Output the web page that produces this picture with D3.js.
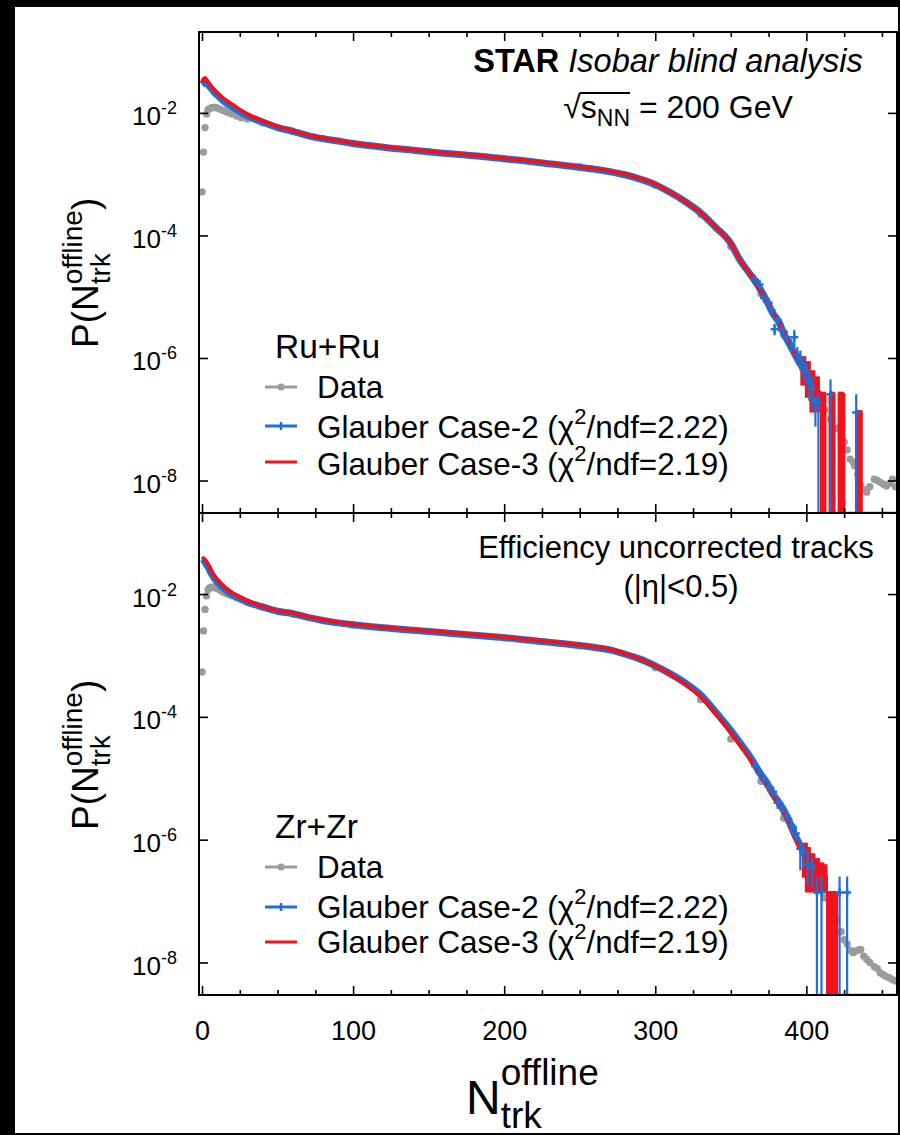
<!DOCTYPE html>
<html>
<head>
<meta charset="utf-8">
<script src="https://cdn.jsdelivr.net/npm/d3@7"></script>
<style>
  body { margin: 0; background: #000; }
  svg { display: block; }
  text { font-family: "Liberation Sans", Arial, Helvetica, sans-serif; fill: #000; }
</style>
</head>
<body>
<script>
// all P(N) values below are log10 exponents

// model curves, common N grid
const nGrid = [0,1,2,4,6,8,10,13,16,20,25,30,40,50,60,70,80,90,100,120,140,160,180,200,220,240,260,270,280,290,300,310,320,330,340,350,356,363,369,374,378,382,385,389,392,396,400];

const ruCase3 = [-1.50,-1.45,-1.43,-1.50,-1.57,-1.62,-1.67,-1.74,-1.80,-1.86,-1.95,-2.02,-2.13,-2.22,-2.29,-2.36,-2.41,-2.45,-2.49,-2.55,-2.60,-2.65,-2.69,-2.74,-2.79,-2.85,-2.91,-2.95,-3.00,-3.07,-3.16,-3.30,-3.45,-3.63,-3.87,-4.13,-4.40,-4.64,-4.88,-5.07,-5.26,-5.43,-5.58,-5.80,-5.94,-6.08,-6.25];
const ruCase2 = [-1.54,-1.52,-1.50,-1.54,-1.60,-1.66,-1.71,-1.78,-1.84,-1.90,-1.98,-2.05,-2.15,-2.24,-2.30,-2.37,-2.42,-2.46,-2.50,-2.56,-2.61,-2.66,-2.70,-2.75,-2.80,-2.86,-2.92,-2.96,-3.01,-3.08,-3.17,-3.30,-3.45,-3.63,-3.87,-4.13,-4.40,-4.64,-4.86,-5.08,-5.28,-5.42,-5.60,-5.78,-5.92,-6.10,-6.22];
const zrCase3 = [-1.40,-1.42,-1.44,-1.52,-1.62,-1.70,-1.76,-1.84,-1.91,-1.98,-2.05,-2.11,-2.20,-2.27,-2.31,-2.37,-2.42,-2.46,-2.49,-2.54,-2.58,-2.62,-2.66,-2.70,-2.75,-2.80,-2.86,-2.90,-2.97,-3.06,-3.17,-3.31,-3.47,-3.67,-3.95,-4.26,-4.46,-4.70,-4.95,-5.13,-5.30,-5.45,-5.57,-5.78,-5.95,-6.15,-6.32];
const zrCase2 = [-1.51,-1.50,-1.50,-1.56,-1.66,-1.74,-1.80,-1.88,-1.94,-2.01,-2.07,-2.13,-2.21,-2.28,-2.32,-2.38,-2.43,-2.47,-2.50,-2.55,-2.59,-2.63,-2.67,-2.71,-2.76,-2.81,-2.87,-2.91,-2.98,-3.06,-3.17,-3.30,-3.45,-3.64,-3.92,-4.22,-4.42,-4.66,-4.90,-5.08,-5.26,-5.40,-5.52,-5.72,-5.90,-6.10,-6.30];

// data points
const dataN = [0,1,2,3,4,5,6,7,8,9,10,12,14,16,18,20,23,26,30,40,60,80,100,150,200,250,300,330,350,370,385,400,404,408,412,416,420,423,425,427,429,431,432,434,436,438,440,442,445,447,449,451,453,455,457,459];
const ruData = [-3.29,-2.64,-2.24,-2.02,-1.95,-1.93,-1.92,-1.91,-1.91,-1.91,-1.92,-1.94,-1.96,-1.98,-2.00,-2.02,-2.05,-2.08,-2.10,-2.16,-2.30,-2.42,-2.50,-2.63,-2.75,-2.88,-3.18,-3.66,-4.18,-4.95,-5.62,-6.30,-6.50,-6.70,-6.85,-7.00,-7.15,-7.30,-7.37,-7.50,-7.65,-7.70,-7.76,-7.90,-8.09,-8.15,-8.19,-8.10,-7.98,-8.00,-8.03,-8.06,-8.09,-8.05,-7.98,-8.10];
const zrData = [-3.27,-2.60,-2.25,-2.03,-1.93,-1.90,-1.89,-1.89,-1.89,-1.90,-1.91,-1.94,-1.97,-1.99,-2.01,-2.03,-2.06,-2.09,-2.13,-2.21,-2.32,-2.43,-2.50,-2.61,-2.71,-2.84,-3.20,-3.72,-4.36,-5.05,-5.65,-6.35,-6.55,-6.75,-6.95,-7.10,-7.30,-7.50,-7.63,-7.70,-7.80,-7.84,-7.82,-7.80,-7.79,-7.90,-7.95,-8.00,-8.07,-8.10,-8.17,-8.20,-8.23,-8.25,-8.28,-8.30];

// tails: value, lower and upper error edge (null = empty bin, -12 = error down to zero)
const ruC3TailN   = [398, 401, 404, 407, 411, 414, 417, 420, 423, 427, 431, 435, 438, 445, 460];
const ruC3TailVal = [-6.15,-6.30,-6.45,-6.55,-6.59,null,-6.59,null,-6.59,null,null,-6.89,null,null,null];
const ruC3TailLo  = [-6.45,-6.65,-6.89,-6.89,-12,null,-12,null,-12,null,null,-12,null,null,null];
const ruC3TailHi  = [-5.97,-6.05,-6.20,-6.30,-6.55,null,-6.55,null,-6.55,null,null,-6.85,null,null,null];

const ruC2TailN   = [366, 369, 372, 375, 377, 379, 381, 384, 387, 390, 392, 394, 396, 398, 400, 402, 404, 406, 408, 416, 433];
const ruC2TailVal = [-4.72,-4.80,-5.02,-5.10,-5.22,-5.53,-5.38,-5.55,-5.66,-5.80,-5.66,-5.95,-6.02,-6.15,-6.22,-6.40,-6.50,-6.71,-6.73,-6.59,-6.89];
const ruC2TailLo  = [-4.80,-4.88,-5.10,-5.18,-5.31,-5.63,-5.48,-5.66,-5.78,-5.92,-5.80,-6.10,-6.20,-6.35,-6.45,-6.70,-6.85,-7.12,-12,-12,-12];
const ruC2TailHi  = [-4.65,-4.73,-4.95,-5.03,-5.14,-5.44,-5.29,-5.45,-5.55,-5.69,-5.54,-5.82,-5.88,-6.00,-6.05,-6.22,-6.30,-6.63,-6.59,-6.35,-6.59];

const zrC3TailN   = [399, 401, 404, 407, 410, 412, 415, 417, 419, 421, 425, 440, 460];
const zrC3TailVal = [-6.25,-6.33,-6.45,-6.52,-6.55,-6.60,-6.86,-6.86,-6.86,null,null,null,null];
const zrC3TailLo  = [-6.62,-6.86,-6.86,-6.86,-6.86,-6.86,-12,-12,-12,null,null,null,null];
const zrC3TailHi  = [-6.05,-6.12,-6.22,-6.30,-6.37,-6.40,-6.84,-6.84,-6.84,null,null,null,null];

const zrC2TailN   = [366, 369, 372, 375, 378, 381, 384, 387, 390, 393, 396, 398, 401, 404, 407, 410, 422, 427];
const zrC2TailVal = [-4.80,-4.92,-5.02,-5.14,-5.22,-5.40,-5.48,-5.62,-5.76,-5.90,-6.15,-6.20,-6.40,-6.45,-6.86,-6.86,-6.86,-6.86];
const zrC2TailLo  = [-4.88,-5.00,-5.11,-5.23,-5.32,-5.50,-5.60,-5.74,-5.90,-6.05,-6.50,-6.45,-6.75,-6.80,-12,-12,-12,-12];
const zrC2TailHi  = [-4.73,-4.85,-4.94,-5.06,-5.13,-5.31,-5.38,-5.51,-5.64,-5.77,-6.00,-6.05,-6.20,-6.30,-6.60,-6.60,-6.60,-6.60];

const xMajor = [0, 100, 200, 300, 400];
const xMinor = d3.range(0, 451, 25).filter(v => v % 100 !== 0);
const yTicks = [1e-2, 1e-4, 1e-6, 1e-8];

const legendNames = ["Data", "Glauber Case-2 (", "Glauber Case-3 ("];
const chiValues = ["2.22", "2.19"];

const gray = "#9b9b9b", blue = "#1f6fd6", red = "#f0121c";

const svg = d3.select("body").append("svg").attr("width", 900).attr("height", 1135);
svg.append("rect").attr("width", 900).attr("height", 1135).attr("fill", "#000");
svg.append("rect").attr("x", 15).attr("y", 7).attr("width", 883).attr("height", 1126).attr("fill", "#fff");

const left = 199, right = 897;
const x = d3.scaleLinear().domain([-2, 460]).range([left, right]);
const pow = v => Math.pow(10, v);

function zipTail(N, val, lo, hi) {
  return N.map((n, i) => ({ n: n, v: val[i], lo: lo[i], hi: hi[i] }));
}

function drawPanel(p) {
  const y = d3.scaleLog().domain([pow(-8.53), pow(-0.68)]).range([p.bottom, p.top]).clamp(true);
  const Y = v => y(pow(v));

  svg.append("clipPath").attr("id", "clip" + p.id)
    .append("rect").attr("x", left).attr("y", p.top)
    .attr("width", right - left).attr("height", p.bottom - p.top);
  const plot = svg.append("g").attr("clip-path", "url(#clip" + p.id + ")");

  // data
  plot.selectAll("circle").data(d3.zip(dataN, p.data)).join("circle")
    .attr("cx", d => x(d[0])).attr("cy", d => Y(d[1])).attr("r", 3.7).attr("fill", gray);

  const smooth = d3.line().x(d => x(d[0])).y(d => Y(d[1])).curve(d3.curveMonotoneX);

  // case-2 body
  plot.append("path").datum(d3.zip(nGrid, p.case2)).attr("d", smooth)
    .attr("fill", "none").attr("stroke", blue).attr("stroke-width", 7);

  // case-3 body + tail
  plot.append("path").datum(d3.zip(nGrid, p.case3)).attr("d", smooth)
    .attr("fill", "none").attr("stroke", red).attr("stroke-width", 4);

  const rt = zipTail(p.c3Tail[0], p.c3Tail[1], p.c3Tail[2], p.c3Tail[3]);
  plot.append("path").datum(rt)
    .attr("d", d3.line().x(d => x(d.n)).y(d => Y(d.v === null ? -12 : d.v)).curve(d3.curveStep))
    .attr("fill", "none").attr("stroke", red).attr("stroke-width", 2.5);
  plot.selectAll("line.rerr").data(rt.filter(d => d.v !== null)).join("line")
    .attr("class", "rerr")
    .attr("x1", d => x(d.n)).attr("x2", d => x(d.n))
    .attr("y1", d => Y(d.lo)).attr("y2", d => Y(d.hi))
    .attr("stroke", red).attr("stroke-width", 6);

  // case-2 tail points
  const bt = zipTail(p.c2Tail[0], p.c2Tail[1], p.c2Tail[2], p.c2Tail[3]);
  plot.selectAll("line.berr").data(bt).join("line")
    .attr("class", "berr")
    .attr("x1", d => x(d.n)).attr("x2", d => x(d.n))
    .attr("y1", d => Y(d.lo)).attr("y2", d => Y(d.hi))
    .attr("stroke", blue).attr("stroke-width", 2.2);
  plot.selectAll("path.bmark").data(bt).join("path")
    .attr("class", "bmark")
    .attr("d", d => {
      const cx = x(d.n), cy = Y(d.v);
      return `M${cx - 4},${cy}H${cx + 4}M${cx},${cy - 4}V${cy + 4}`;
    })
    .attr("stroke", blue).attr("stroke-width", 2.5);

  // axes
  const axes = svg.append("g");
  const tickStyle = g => {
    g.select(".domain").remove();
    g.selectAll(".tick line").attr("stroke", "#000").attr("stroke-width", 1.6);
  };
  axes.append("g").attr("transform", `translate(0,${p.top})`)
    .call(d3.axisTop(x).tickValues(xMajor).tickSize(-9).tickFormat("")).call(tickStyle);
  axes.append("g").attr("transform", `translate(0,${p.top})`)
    .call(d3.axisTop(x).tickValues(xMinor).tickSize(-5).tickFormat("")).call(tickStyle);
  axes.append("g").attr("transform", `translate(0,${p.bottom})`)
    .call(d3.axisBottom(x).tickValues(xMinor).tickSize(-5).tickFormat("")).call(tickStyle);
  const xb = axes.append("g").attr("transform", `translate(0,${p.bottom})`)
    .call(d3.axisBottom(x).tickValues(xMajor).tickSize(-9).tickPadding(26)
      .tickFormat(p.labels ? d3.format("d") : ""))
    .call(tickStyle);
  xb.selectAll(".tick text").attr("font-size", 27).attr("fill", "#000")
    .attr("font-family", "Liberation Sans, Arial, sans-serif");

  axes.append("g").attr("transform", `translate(${right},0)`)
    .call(d3.axisRight(y).tickValues(yTicks).tickSize(-9).tickFormat("")).call(tickStyle);
  const yl = axes.append("g").attr("transform", `translate(${left},0)`)
    .call(d3.axisLeft(y).tickValues(yTicks).tickSize(-9).tickPadding(22).tickFormat(""))
    .call(tickStyle);
  yl.selectAll(".tick text").each(function (d) {
    const t = d3.select(this).attr("font-size", 26).attr("fill", "#000")
      .attr("font-family", "Liberation Sans, Arial, sans-serif").attr("dy", "0.46em");
    t.append("tspan").text("10");
    t.append("tspan").attr("font-size", 18).attr("dy", -11).text(Math.round(Math.log10(d)));
  });

  svg.append("rect").attr("x", left).attr("y", p.top)
    .attr("width", right - left).attr("height", p.bottom - p.top)
    .attr("fill", "none").attr("stroke", "#000").attr("stroke-width", 2);

  // y title
  const yt = svg.append("text").attr("font-size", 37)
    .attr("transform", `translate(98,${p.titleStart}) rotate(-90)`);
  yt.append("tspan").text("P(N");
  const ys = yt.append("tspan").attr("font-size", 28).attr("dy", -16).text("offline");
  const yb = yt.append("tspan").attr("font-size", 28).attr("dy", 28).text("trk");
  const yc = yt.append("tspan").attr("dy", -12).text(")");
  const wS = ys.node().getComputedTextLength(), wB = yb.node().getComputedTextLength();
  yb.attr("dx", -wS);
  yc.attr("dx", wS - wB);

  // legend
  const lg = svg.append("g");
  lg.append("text").attr("x", 275).attr("y", p.legendTop).attr("font-size", 33.5).text(p.system);
  const rows = p.legendRows;
  const colors = [gray, blue, red];
  rows.forEach((r, i) => {
    lg.append("line").attr("x1", 265).attr("x2", 297).attr("y1", r.line).attr("y2", r.line)
      .attr("stroke", colors[i]).attr("stroke-width", 3);
    if (i === 0) lg.append("circle").attr("cx", 281).attr("cy", r.line).attr("r", 3.5).attr("fill", gray);
    if (i === 1) lg.append("line").attr("x1", 281).attr("x2", 281).attr("y1", r.line - 4).attr("y2", r.line + 4)
      .attr("stroke", blue).attr("stroke-width", 2.5);
    const t = lg.append("text").attr("x", 317).attr("y", r.text).attr("font-size", 31.4);
    t.append("tspan").text(legendNames[i]);
    if (i > 0) {
      t.append("tspan").text("χ");
      t.append("tspan").attr("font-size", 22).attr("dy", -14).text("2");
      t.append("tspan").attr("dy", 14).text("/ndf=" + chiValues[i - 1] + ")");
    }
  });
}

drawPanel({
  id: 0, top: 32, bottom: 513, labels: false, titleStart: 348,
  data: ruData, case2: ruCase2, case3: ruCase3,
  c3Tail: [ruC3TailN, ruC3TailVal, ruC3TailLo, ruC3TailHi],
  c2Tail: [ruC2TailN, ruC2TailVal, ruC2TailLo, ruC2TailHi],
  system: "Ru+Ru", legendTop: 358,
  legendRows: [{ text: 398, line: 387 }, { text: 438, line: 426 }, { text: 475, line: 462 }]
});
drawPanel({
  id: 1, top: 513, bottom: 995, labels: true, titleStart: 830,
  data: zrData, case2: zrCase2, case3: zrCase3,
  c3Tail: [zrC3TailN, zrC3TailVal, zrC3TailLo, zrC3TailHi],
  c2Tail: [zrC2TailN, zrC2TailVal, zrC2TailLo, zrC2TailHi],
  system: "Zr+Zr", legendTop: 838,
  legendRows: [{ text: 878, line: 867 }, { text: 918, line: 907 }, { text: 953, line: 942 }]
});

// header texts
const h1 = svg.append("text").attr("x", 668).attr("y", 72).attr("font-size", 32.5).attr("text-anchor", "middle");
h1.append("tspan").attr("font-weight", "bold").text("STAR ");
h1.append("tspan").attr("font-style", "italic").text("Isobar blind analysis");

const h2 = svg.append("text").attr("x", 678).attr("y", 118).attr("font-size", 32).attr("text-anchor", "middle");
h2.append("tspan").text("√s");
h2.append("tspan").attr("font-size", 23).attr("dy", 8).text("NN");
h2.append("tspan").attr("dy", -8).text(" = 200 GeV");
const e1 = h2.node().getExtentOfChar(1), e3 = h2.node().getExtentOfChar(3);
svg.append("line").attr("x1", e1.x - 1).attr("x2", e3.x + e3.width).attr("y1", 118 - 25).attr("y2", 118 - 25)
  .attr("stroke", "#000").attr("stroke-width", 1.8);

svg.append("text").attr("x", 676).attr("y", 558).attr("font-size", 31).attr("text-anchor", "middle")
  .text("Efficiency uncorrected tracks");
svg.append("text").attr("x", 681).attr("y", 597).attr("font-size", 31).attr("text-anchor", "middle")
  .text("(|η|<0.5)");

// x title
const xt = svg.append("text").attr("x", 466).attr("y", 1114).attr("font-size", 48);
xt.append("tspan").text("N");
const xs = xt.append("tspan").attr("font-size", 37).attr("dy", -29).text("offline");
const xb2 = xt.append("tspan").attr("font-size", 37).attr("dy", 43).text("trk");
xb2.attr("dx", -xs.node().getComputedTextLength());
</script>
</body>
</html>
